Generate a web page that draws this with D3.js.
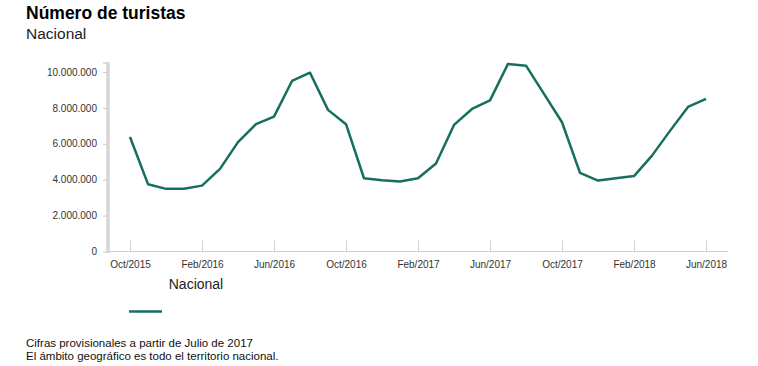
<!DOCTYPE html>
<html>
<head>
<meta charset="utf-8">
<script src="https://cdn.jsdelivr.net/npm/d3@7"></script>
<style>
  body { margin: 0; background: #fff; font-family: "Liberation Sans", Arial, sans-serif; }
  svg text { font-family: "Liberation Sans", Arial, sans-serif; }
</style>
</head>
<body>
<svg id="chart"></svg>
<script>
// meses (Oct/2015 - Jun/2018)
var months = [
  "2015-10", "2015-11", "2015-12",
  "2016-01", "2016-02", "2016-03", "2016-04", "2016-05", "2016-06",
  "2016-07", "2016-08", "2016-09", "2016-10", "2016-11", "2016-12",
  "2017-01", "2017-02", "2017-03", "2017-04", "2017-05", "2017-06",
  "2017-07", "2017-08", "2017-09", "2017-10", "2017-11", "2017-12",
  "2018-01", "2018-02", "2018-03", "2018-04", "2018-05", "2018-06"
];

var nacional = [
  6380000, 3750000, 3490000,
  3490000, 3670000, 4600000, 6090000, 7090000, 7510000,
  9500000, 9960000, 7890000, 7090000, 4080000, 3970000,
  3900000, 4080000, 4900000, 7050000, 7940000, 8420000,
  10450000, 10350000, 8780000, 7200000, 4380000, 3950000,
  4080000, 4200000, 5340000, 6720000, 8050000, 8500000
];

var xTicks = ["2015-10", "2016-02", "2016-06", "2016-10", "2017-02", "2017-06", "2017-10", "2018-02", "2018-06"];
var yTicks = [0, 2000000, 4000000, 6000000, 8000000, 10000000];
var monthNames = ["Ene", "Feb", "Mar", "Abr", "May", "Jun", "Jul", "Ago", "Sep", "Oct", "Nov", "Dic"];

var W = 758, H = 366;
var lineColor = "#176e5f";

var es = d3.formatLocale({ decimal: ",", thousands: ".", grouping: [3], currency: ["", " €"] });
var fmt = es.format(",d");

var svg = d3.select("#chart").attr("width", W).attr("height", H);

var x = d3.scalePoint().domain(months).range([130, 706]);
var y = d3.scaleLinear().domain([0, 10500000]).range([251.5, 63]);

// titulo
svg.append("text").attr("x", 26).attr("y", 18.5)
  .style("font-size", "17.5px").style("font-weight", "bold").attr("fill", "#000")
  .text("Número de turistas");
svg.append("text").attr("x", 26).attr("y", 38.5)
  .style("font-size", "15.5px").attr("fill", "#222")
  .text("Nacional");

// eje x
var gx = svg.append("g").attr("transform", "translate(0,251.5)");
gx.append("line").attr("x1", 108).attr("x2", 728).attr("stroke", "#d0d0d0").attr("stroke-width", 1.2);
gx.call(d3.axisBottom(x).tickValues(xTicks).tickSize(-11).tickPadding(9)
    .tickFormat(function(d) {
      var p = d.split("-");
      return monthNames[+p[1] - 1] + "/" + p[0];
    }))
  .call(function(g) { g.select(".domain").remove(); });
gx.selectAll(".tick line").attr("stroke", "#d0d0d0");
gx.selectAll(".tick text").style("font-size", "10px").attr("fill", "#333");

// eje y
var gy = svg.append("g").attr("transform", "translate(108,0)");
gy.call(d3.axisLeft(y).tickValues(yTicks).tickSize(5).tickPadding(6).tickFormat(fmt))
  .call(function(g) { g.select(".domain").remove(); });
gy.append("line").attr("y1", 62).attr("y2", 253).attr("stroke", "#d6d6d6").attr("stroke-width", 3.5);
gy.append("line").attr("x1", -5).attr("x2", 0).attr("y1", 63).attr("y2", 63).attr("stroke", "#d6d6d6").attr("stroke-width", 1.5);
gy.selectAll(".tick line").attr("stroke", "#c8c8c8");
gy.selectAll(".tick text").style("font-size", "10px").attr("fill", "#333");

// linea
var line = d3.line()
  .x(function(d, i) { return x(months[i]); })
  .y(function(d) { return y(d); });

svg.append("path")
  .datum(nacional)
  .attr("d", line)
  .attr("fill", "none")
  .attr("stroke", lineColor)
  .attr("stroke-width", 2.5)
  .attr("stroke-linejoin", "round");

// leyenda
svg.append("text").attr("x", 196).attr("y", 289).attr("text-anchor", "middle")
  .style("font-size", "14px").attr("fill", "#222").text("Nacional");
svg.append("line").attr("x1", 129).attr("x2", 162).attr("y1", 311.5).attr("y2", 311.5)
  .attr("stroke", lineColor).attr("stroke-width", 2.5);

// notas
svg.append("text").attr("x", 26).attr("y", 346.5)
  .style("font-size", "11.5px").attr("fill", "#111").text("Cifras provisionales a partir de Julio de 2017");
svg.append("text").attr("x", 26).attr("y", 359.5)
  .style("font-size", "11.5px").attr("fill", "#111").text("El ámbito geográfico es todo el territorio nacional.");
</script>
</body>
</html>
